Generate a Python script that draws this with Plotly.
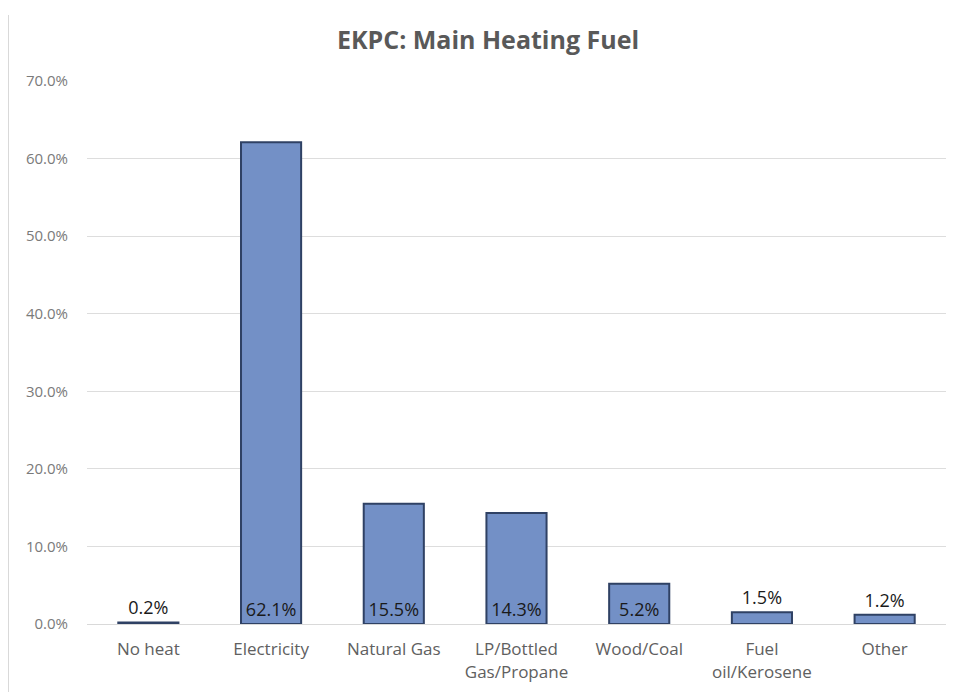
import plotly.graph_objects as go

categories = ["No heat", "Electricity", "Natural Gas", "LP/Bottled<br>Gas/Propane",
              "Wood/Coal", "Fuel<br>oil/Kerosene", "Other"]
values = [0.2, 62.1, 15.5, 14.3, 5.2, 1.5, 1.2]
labels = ["0.2%", "62.1%", "15.5%", "14.3%", "5.2%", "1.5%", "1.2%"]
tick_vals = [0, 10, 20, 30, 40, 50, 60, 70]
tick_text = ["0.0%", "10.0%", "20.0%", "30.0%", "40.0%", "50.0%", "60.0%", "70.0%"]

positions = ["inside" if v > 4 else "outside" for v in values]

FONT = "Open Sans"
LBL = 18

fig = go.Figure(go.Bar(
    x=categories, y=values, text=labels, textposition=positions,
    insidetextanchor="start", cliponaxis=False,
    textfont=dict(family=FONT, size=LBL, color="#1a1a1a"),
    insidetextfont=dict(family=FONT, size=LBL, color="#1a1a1a"),
    outsidetextfont=dict(family=FONT, size=LBL, color="#1a1a1a"),
    marker=dict(color="#7390C6", line=dict(color="#2F4164", width=2)),
    hoverinfo="skip",
))

# the page body has an 8px margin, so the figure is 8px smaller and shifted
OFF = 8
W, H = 954 - OFF, 692 - OFF
L, R, T, B = 87 - OFF, 8, 81 - OFF, 68
pw, ph = W - L - R, H - T - B

fig.update_layout(
    width=W, height=H,
    margin=dict(l=L, r=R, t=T, b=B, autoexpand=False),
    paper_bgcolor="white", plot_bgcolor="white",
    bargap=0.51,
    showlegend=False,
    title=dict(text="<b>EKPC: Main Heating Fuel</b>", x=(488 - OFF - L) / pw, xref="paper",
               xanchor="center", y=1 - (40 - OFF) / H, yanchor="middle",
               font=dict(family=FONT, size=25, color="#595959")),
    font=dict(family=FONT, color="#595959"),
    uniformtext=dict(mode="show", minsize=LBL),
    shapes=[dict(type="line", xref="paper", yref="paper",
                 x0=(0.5 - L) / pw, x1=(0.5 - L) / pw,
                 y0=-B / ph, y1=1 + (T - 7) / ph,
                 line=dict(color="#D9D9D9", width=1), layer="below")],
)
fig.update_yaxes(range=[0, 70], tickvals=tick_vals, ticktext=tick_text,
                 showgrid=True, gridcolor="#DDDDDD", gridwidth=1,
                 zeroline=False, showline=False, ticks="",
                 ticklabelstandoff=18, automargin=False,
                 tickfont=dict(family=FONT, size=15, color="#7a7a7a"))
fig.update_xaxes(showgrid=False, showline=True, linecolor="#D9D9D9", linewidth=1,
                 ticks="", ticklabelstandoff=10, automargin=False,
                 tickfont=dict(family=FONT, size=17, color="#606060"))

fig.write_html("out.html")
